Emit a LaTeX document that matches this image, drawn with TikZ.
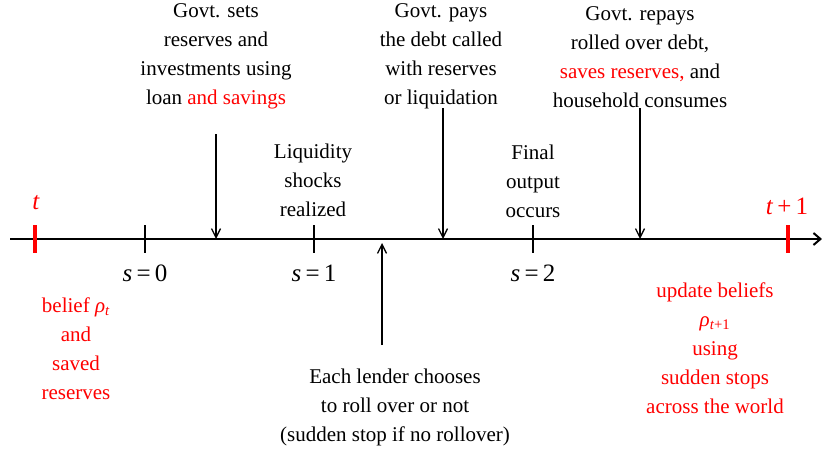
\documentclass[tikz,border=0pt]{standalone}
\usepackage{fontspec}
\setmainfont{LiberationSerif}[Extension=.ttf,UprightFont=*-Regular,ItalicFont=*-Italic,BoldFont=*-Bold,BoldItalicFont=*-BoldItalic]
\usepackage{tikz}
\usetikzlibrary{arrows.meta}

\definecolor{lblred}{RGB}{255,0,0}
\newcommand{\lblfont}{\rmfamily\fontsize{21}{29}\selectfont}
\newcommand{\tsym}[1]{\textit{#1}}

\begin{document}
\begin{tikzpicture}[x=1pt,y=-1pt,
  every node/.style={font=\lblfont,align=center},
  axisline/.style={line width=2.4pt,-{Straight Barb[length=7pt,width=12pt,line width=2pt]}},
  tickmark/.style={line width=1.4pt},
  redmark/.style={lblred,line width=3.2pt},
  event/.style={line width=1.3pt,-{Straight Barb[length=9pt,width=9pt]}},
  redtext/.style={text=lblred}]
\useasboundingbox (0,0) rectangle (822,455);

% time line
\coordinate (start) at (10,239);
\coordinate (stop) at (822,239);
\draw[axisline] (start) -- (stop);

% periods t and t+1
\draw[redmark] (35,225) -- (35,253);
\draw[redmark] (788,225) -- (788,253);
\node[redtext,font=\rmfamily\fontsize{25}{29}\selectfont] (tnow) at (36,203) {\tsym{t}};
\node[redtext,font=\rmfamily\fontsize{25}{29}\selectfont] (tnext) at (787,206) {\tsym{t}\,+\,1};

% sub-periods s
\foreach \x/\s in {145/0,314/1,533/2}{
  \draw[tickmark] (\x,225) -- (\x,253);
  \node[font=\rmfamily\fontsize{25}{29}\selectfont] (s\s) at (\x,273) {\tsym{s}\,=\,\s};
}

% events above the line
\node (invest) at (216,56) {Govt. sets\\reserves and\\investments using\\loan {\color{lblred}and savings}};
\node (shock) at (313,180) {Liquidity\\shocks\\realized};
\node (pay) at (441,56) {Govt. pays\\the debt called\\with reserves\\or liquidation};
\node (output) at (533,181) {Final\\output\\occurs};
\node (repay) at (640,57) {Govt. repays\\rolled over debt,\\{\color{lblred}saves reserves,} and\\household consumes};

\coordinate (investend) at (216,239);
\coordinate (payend) at (443,239);
\coordinate (repayend) at (640,239);
\draw[event] (216,134) -- (investend);
\draw[event] (443,108) -- (payend);
\draw[event] (640,108) -- (repayend);

% event below the line
\node (roll) at (395,407) {Each lender chooses\\to roll over or not\\(sudden stop if no rollover)};
\coordinate (rollend) at (382,243);
\draw[event] (382,345) -- (rollend);

% beliefs
\node[redtext] (belief) at (76,349) {belief \textit{ρ}\textsubscript{\textit{t}}\\and\\saved\\reserves};
\node[redtext] (update) at (715,348) {update beliefs\\\textit{ρ}\textsubscript{\textit{t}+1}\\using\\sudden stops\\across the world};
\end{tikzpicture}
\end{document}
